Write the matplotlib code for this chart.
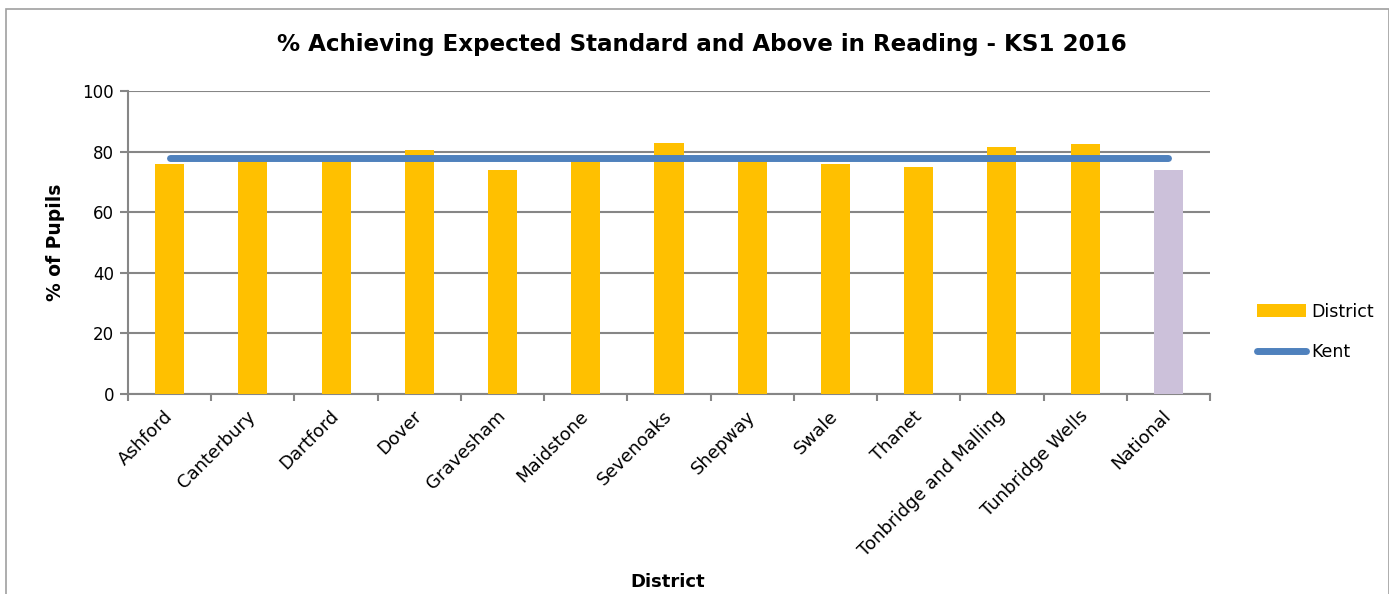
import matplotlib
matplotlib.use("Agg")
import matplotlib.pyplot as plt
from matplotlib.patches import Rectangle
from matplotlib.transforms import ScaledTranslation
import numpy as np

categories = ["Ashford", "Canterbury", "Dartford", "Dover", "Gravesham", "Maidstone",
              "Sevenoaks", "Shepway", "Swale", "Thanet", "Tonbridge and Malling",
              "Tunbridge Wells", "National"]
district_values = [76, 77, 77, 80.5, 74, 77, 83, 77, 76, 75, 81.5, 82.5, 74]
kent_value = 78
y_ticks = [0, 20, 40, 60, 80, 100]

bar_colors = ["#FFC000"] * 12 + ["#CCC1DA"]
grid_col = "#868686"

fig = plt.figure(figsize=(13.89, 5.94), dpi=100)
ax = fig.add_axes([128/1389, 1 - 394/594, (1210-128)/1389, (394-91)/594])

x = np.arange(len(categories))
bars = ax.bar(x, district_values, width=0.35, color=bar_colors, zorder=3, label="District")
line, = ax.plot([x[0], x[-1]], [kent_value, kent_value], color="#4F81BD", lw=5,
                solid_capstyle="round", zorder=4, label="Kent")

ax.set_xlim(-0.5, len(categories) - 0.5)
ax.set_ylim(0, 100)
ax.set_yticks(y_ticks)
ax.tick_params(axis="y", labelsize=12, length=6, color=grid_col, width=1.5, pad=4)
ax.set_xticks(np.arange(-0.5, len(categories), 1.0), minor=False)
ax.set_xticklabels([])
ax.set_xticks(x, minor=True)
ax.set_xticklabels(categories, minor=True, rotation=45, ha="right", va="center",
                   rotation_mode="anchor", fontsize=13)
offset = ScaledTranslation(6/100, 0, fig.dpi_scale_trans)
for lab in ax.get_xticklabels(minor=True):
    lab.set_transform(lab.get_transform() + offset)
ax.tick_params(axis="x", which="major", length=5, color=grid_col, width=1.5)
ax.tick_params(axis="x", which="minor", length=0, pad=14)
ax.yaxis.grid(True, color=grid_col, lw=1.5, zorder=0)
for s in ["top", "right"]:
    ax.spines[s].set_visible(False)
for s in ["left", "bottom"]:
    ax.spines[s].set_color(grid_col)
    ax.spines[s].set_linewidth(1.5)

fig.text(56/1389, 1 - 242/594, "% of Pupils", fontsize=13.5, fontweight="bold",
         rotation=90, ha="center", va="center")
fig.text(668/1389, 1 - 582/594, "District", fontsize=13, fontweight="bold",
         ha="center", va="center")
fig.text(702/1389, 1 - 45/594, "% Achieving Expected Standard and Above in Reading - KS1 2016",
         fontsize=16.6, fontweight="bold", ha="center", va="center")

leg = ax.legend(handles=[bars, line], labels=["District", "Kent"],
                loc="center left", bbox_to_anchor=(1.029, 0.205), frameon=False, fontsize=12.5,
                handlelength=2.8, labelspacing=1.3, handletextpad=0.3)

fig.patches.append(Rectangle((6/1389, -0.1), (1389-6)/1389, 1 - 9/594 + 0.1,
                             transform=fig.transFigure, fill=False, edgecolor="#A0A0A0",
                             lw=1.2))

fig.savefig("out.png", dpi=100, facecolor="white")
